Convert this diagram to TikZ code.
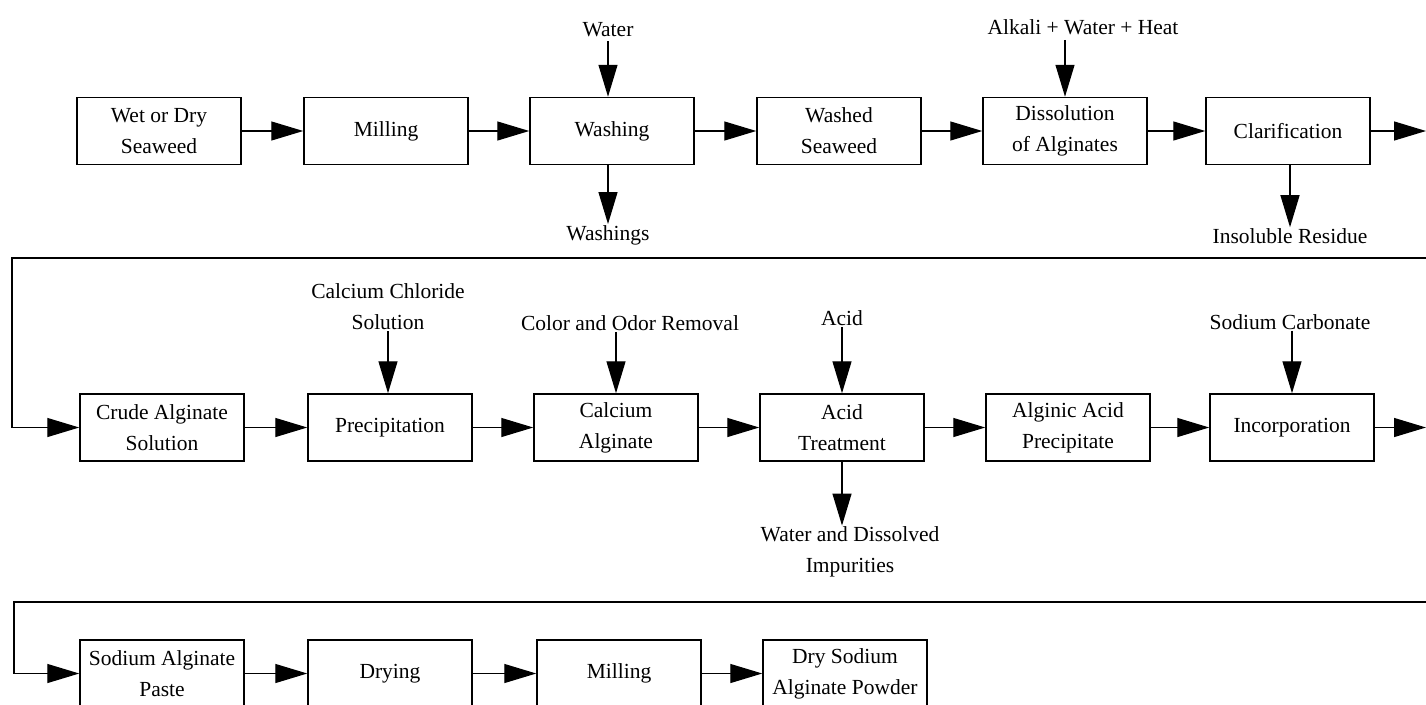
\documentclass[tikz,border=0pt]{standalone}
\usepackage{fontspec}
\setmainfont{Liberation Serif}
\usetikzlibrary{arrows.meta}
\begin{document}
\begin{tikzpicture}[x=1pt,y=-1pt,
  box/.style={draw, line width=1.5pt, minimum width=164pt, minimum height=67pt, align=center, inner sep=2pt, font=\fontsize{21.5}{31}\selectfont},
  lbl/.style={align=center, inner sep=1pt, font=\fontsize{21.5}{31}\selectfont},
  flow/.style={line width=1.3pt, -{Triangle[length=32pt,width=19pt]}}]
\useasboundingbox (0,0) rectangle (1426,704);
\clip (0,0) rectangle (1426,704);
% row 1
\node[box] (wet) at (159,131) {Wet or Dry\\Seaweed};
\node[box] (mill1) at (386,131) {Milling};
\node[box] (wash) at (612,131) {Washing};
\node[box] (washed) at (839,131) {Washed\\Seaweed};
\node[box] (diss) at (1065,131) {Dissolution\\of Alginates};
\node[box] (clar) at (1288,131) {Clarification};
% row 2
\node[box] (crude) at (162,427.5) {Crude Alginate\\Solution};
\node[box] (precip) at (390,427.5) {Precipitation};
\node[box] (calg) at (616,427.5) {Calcium\\Alginate};
\node[box] (acidt) at (842,427.5) {Acid\\Treatment};
\node[box] (alginic) at (1068,427.5) {Alginic Acid\\Precipitate};
\node[box] (incorp) at (1292,427.5) {Incorporation};
% row 3
\node[box] (paste) at (162,673.5) {Sodium Alginate\\Paste};
\node[box] (drying) at (390,673.5) {Drying};
\node[box] (mill2) at (619,673.5) {Milling};
\node[box] (powder) at (845,673.5) {Dry Sodium\\Alginate Powder};
% labels
\node[lbl] (water) at (608,30) {Water};
\node[lbl] (washings) at (608,235) {Washings};
\node[lbl] (alkali) at (1083,27) {Alkali + Water + Heat};
\node[lbl] (insol) at (1290,236) {Insoluble Residue};
\node[lbl] (cacl) at (388,307) {Calcium Chloride\\Solution};
\node[lbl] (color) at (630,323) {Color and Odor Removal};
\node[lbl] (acid) at (842,318) {Acid};
\node[lbl] (impur) at (850,552) {Water and Dissolved\\Impurities};
\node[lbl] (soda) at (1290,322) {Sodium Carbonate};
% coordinates
\coordinate (r1end) at (1426,131);
\coordinate (r2end) at (1426,427.5);
\coordinate (w1r) at (1426,258);
\coordinate (w1l) at (12,258);
\coordinate (w2r) at (1426,602);
\coordinate (w2l) at (14,602);
% horizontal flows
\draw[flow] (wet.east) -- (mill1.west);
\draw[flow] (mill1.east) -- (wash.west);
\draw[flow] (wash.east) -- (washed.west);
\draw[flow] (washed.east) -- (diss.west);
\draw[flow] (diss.east) -- (clar.west);
\draw[flow] (clar.east) -- (r1end);
\draw[flow] (crude.east) -- (precip.west);
\draw[flow] (precip.east) -- (calg.west);
\draw[flow] (calg.east) -- (acidt.west);
\draw[flow] (acidt.east) -- (alginic.west);
\draw[flow] (alginic.east) -- (incorp.west);
\draw[flow] (incorp.east) -- (r2end);
\draw[flow] (paste.east) -- (drying.west);
\draw[flow] (drying.east) -- (mill2.west);
\draw[flow] (mill2.east) -- (powder.west);
% wrap lines
\draw[flow] (w1r) -- (w1l) |- (crude.west);
\draw[flow] (w2r) -- (w2l) |- (paste.west);
% vertical flows
\draw[flow] ([yshift=-3pt]water.south) -- (water.south |- wash.north);
\draw[flow] (wash.south -| washings.north) -- (washings.north);
\draw[flow] ([yshift=-4pt]diss.north |- alkali.south) -- (diss.north);
\draw[flow] (clar.south -| insol.north) -- (insol.north);
\draw[flow] (cacl.south) -- (cacl.south |- precip.north);
\draw[flow] (calg.north |- color.south) -- (calg.north);
\draw[flow] (acid.south) -- (acid.south |- acidt.north);
\draw[flow] (acidt.south) -- (acidt.south |- impur.north);
\draw[flow] (incorp.north |- soda.south) -- (incorp.north);
\end{tikzpicture}
\end{document}
